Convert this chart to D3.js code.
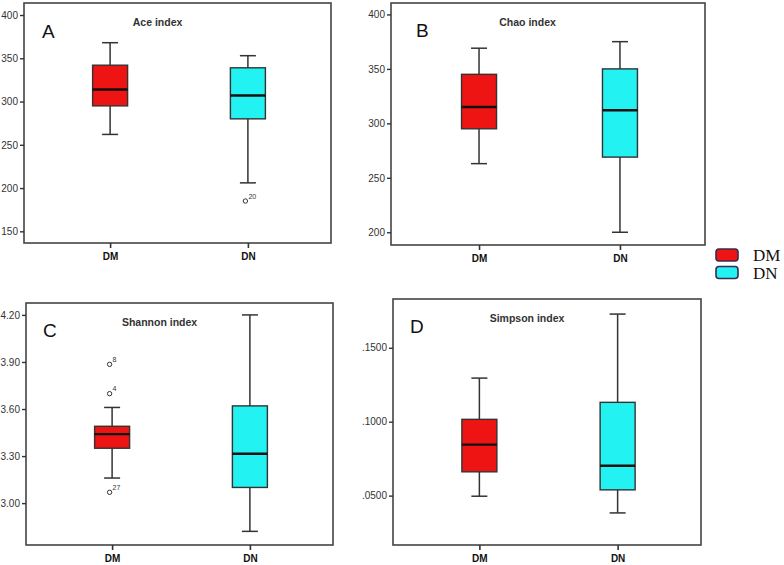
<!DOCTYPE html>
<html>
<head>
<meta charset="utf-8">
<script src="https://cdn.jsdelivr.net/npm/d3@7"></script>
<style>
  html, body { margin: 0; padding: 0; background: #fff; }
  svg { display: block; font-family: "Liberation Sans", Arial, sans-serif; }
</style>
</head>
<body>
<svg id="chart" width="784" height="565"></svg>
<script>
// ---------------- DATA ----------------
const groups = ["DM", "DN"];
// [lower whisker, Q1, median, Q3, upper whisker]
const aceStats = [[262, 295, 314, 342, 368], [206, 280, 307, 339, 353]];
const chaoStats = [[263, 295, 315, 345, 369], [200, 269, 312, 350, 375]];
const shannonStats = [[3.16, 3.35, 3.44, 3.49, 3.61], [2.82, 3.10, 3.315, 3.62, 4.20]];
const simpsonStats = [[0.0496, 0.0661, 0.0845, 0.1016, 0.1295], [0.0383, 0.0539, 0.0702, 0.1131, 0.1728]];

const aceOutliers = [{ group: "DN", value: 185, label: "20" }];
const chaoOutliers = [];
const shannonOutliers = [
  { group: "DM", value: 3.885, label: "8" },
  { group: "DM", value: 3.698, label: "4" },
  { group: "DM", value: 3.069, label: "27" }
];
const simpsonOutliers = [];

const aceTicks = [150, 200, 250, 300, 350, 400];
const chaoTicks = [200, 250, 300, 350, 400];
const shannonTicks = [3.00, 3.30, 3.60, 3.90, 4.20];
const shannonTickLabels = ["3.00", "3.30", "3.60", "3.90", "4.20"];
const simpsonTicks = [0.05, 0.10, 0.15];
const simpsonTickLabels = [".0500", ".1000", ".1500"];

const titles = ["Ace index", "Chao index", "Shannon index", "Simpson index"];
const panelLetters = ["A", "B", "C", "D"];

// ---------------- LAYOUT ----------------
const colors = { DM: "#ef1414", DN: "#22f2f2" };

const panels = [
  { x0: 24, x1: 331, y0: 3, y1: 243, domain: [136.5, 413.9], stats: aceStats, outliers: aceOutliers,
    ticks: aceTicks, tickLabels: aceTicks.map(String), letterDx: 18, letterDy: 35 },
  { x0: 391, x1: 705, y0: 3, y1: 245, domain: [188.3, 410.5], stats: chaoStats, outliers: chaoOutliers,
    ticks: chaoTicks, tickLabels: chaoTicks.map(String), letterDx: 25, letterDy: 33.5 },
  { x0: 26, x1: 333, y0: 303, y1: 545, domain: [2.733, 4.276], stats: shannonStats, outliers: shannonOutliers,
    ticks: shannonTicks, tickLabels: shannonTickLabels, letterDx: 17, letterDy: 34 },
  { x0: 393, x1: 701, y0: 299, y1: 545, domain: [0.0166, 0.183], stats: simpsonStats, outliers: simpsonOutliers,
    ticks: simpsonTicks, tickLabels: simpsonTickLabels, letterDx: 17, letterDy: 33.5 }
];

const svg = d3.select("#chart");
const boxW = 35, capW = 16;

panels.forEach((p, i) => {
  const g = svg.append("g");
  const x = d3.scalePoint().domain(groups).range([p.x0 + 1.5, p.x1 + 1.5]).padding(0.614);
  const y = d3.scaleLinear().domain(p.domain).range([p.y1, p.y0]);

  // frame
  g.append("rect")
    .attr("x", p.x0).attr("y", p.y0)
    .attr("width", p.x1 - p.x0).attr("height", p.y1 - p.y0)
    .attr("fill", "none").attr("stroke", "#444").attr("stroke-width", 1.6);

  // y axis
  const yAxis = d3.axisLeft(y).tickValues(p.ticks).tickSize(4).tickPadding(2)
    .tickFormat((d, j) => p.tickLabels[j]);
  const ya = g.append("g").attr("transform", `translate(${p.x0},0)`).call(yAxis);
  ya.select(".domain").remove();
  ya.selectAll(".tick line").attr("stroke", "#333").attr("stroke-width", 1.4);
  ya.selectAll(".tick text").attr("fill", "#333").style("font-size", "10px")
    .style("font-family", "'Liberation Sans', Arial, sans-serif");

  // x axis
  const xAxis = d3.axisBottom(x).tickSize(5).tickPadding(5);
  const xa = g.append("g").attr("transform", `translate(0,${p.y1})`).call(xAxis);
  xa.select(".domain").remove();
  xa.selectAll(".tick line").attr("stroke", "#333").attr("stroke-width", 1.6);
  xa.selectAll(".tick text").attr("fill", "#111").style("font-size", "10px")
    .style("font-weight", "bold").style("font-family", "'Liberation Sans', Arial, sans-serif");

  // title & letter
  g.append("text")
    .attr("x", p.x0 + 0.435 * (p.x1 - p.x0)).attr("y", p.y0 + 23)
    .attr("text-anchor", "middle").attr("fill", "#333")
    .style("font-size", "10.5px").style("font-weight", "bold")
    .text(titles[i]);
  g.append("text")
    .attr("x", p.x0 + p.letterDx).attr("y", p.y0 + p.letterDy)
    .attr("fill", "#111").style("font-size", "19px")
    .text(panelLetters[i]);

  // boxes
  groups.forEach((grp, k) => {
    const s = p.stats[k];
    const cx = x(grp);
    const bg = g.append("g");
    // whiskers
    bg.append("line").attr("x1", cx).attr("x2", cx).attr("y1", y(s[4])).attr("y2", y(s[3]))
      .attr("stroke", "#333").attr("stroke-width", 1.5);
    bg.append("line").attr("x1", cx).attr("x2", cx).attr("y1", y(s[1])).attr("y2", y(s[0]))
      .attr("stroke", "#333").attr("stroke-width", 1.5);
    [s[0], s[4]].forEach(v => {
      bg.append("line").attr("x1", cx - capW / 2).attr("x2", cx + capW / 2)
        .attr("y1", y(v)).attr("y2", y(v))
        .attr("stroke", "#333").attr("stroke-width", 1.5);
    });
    // box
    bg.append("rect")
      .attr("x", cx - boxW / 2).attr("y", y(s[3]))
      .attr("width", boxW).attr("height", y(s[1]) - y(s[3]))
      .attr("fill", colors[grp]).attr("stroke", "#333").attr("stroke-width", 1.4);
    // median
    bg.append("line").attr("x1", cx - boxW / 2).attr("x2", cx + boxW / 2)
      .attr("y1", y(s[2])).attr("y2", y(s[2]))
      .attr("stroke", "#111").attr("stroke-width", 2.4);
  });

  // outliers
  p.outliers.forEach(o => {
    const cx = x(o.group) - 2.5, cy = y(o.value);
    g.append("circle").attr("cx", cx).attr("cy", cy).attr("r", 2.2)
      .attr("fill", "#fff").attr("stroke", "#333").attr("stroke-width", 1);
    g.append("text").attr("x", cx + 3).attr("y", cy - 2.5)
      .attr("fill", "#333").style("font-size", "7px").text(o.label);
  });
});

// legend
const legend = svg.append("g");
groups.forEach((grp, k) => {
  const ly = 249 + k * 17.5;
  legend.append("rect").attr("x", 716).attr("y", ly).attr("width", 22).attr("height", 12)
    .attr("rx", 3).attr("fill", colors[grp]).attr("stroke", "#3b2b4d").attr("stroke-width", 1.6);
  legend.append("text").attr("x", 753).attr("y", ly + 12)
    .style("font-family", "'Liberation Serif', 'Times New Roman', serif")
    .style("font-size", "17px").attr("fill", "#111").text(grp);
});
</script>
</body>
</html>
